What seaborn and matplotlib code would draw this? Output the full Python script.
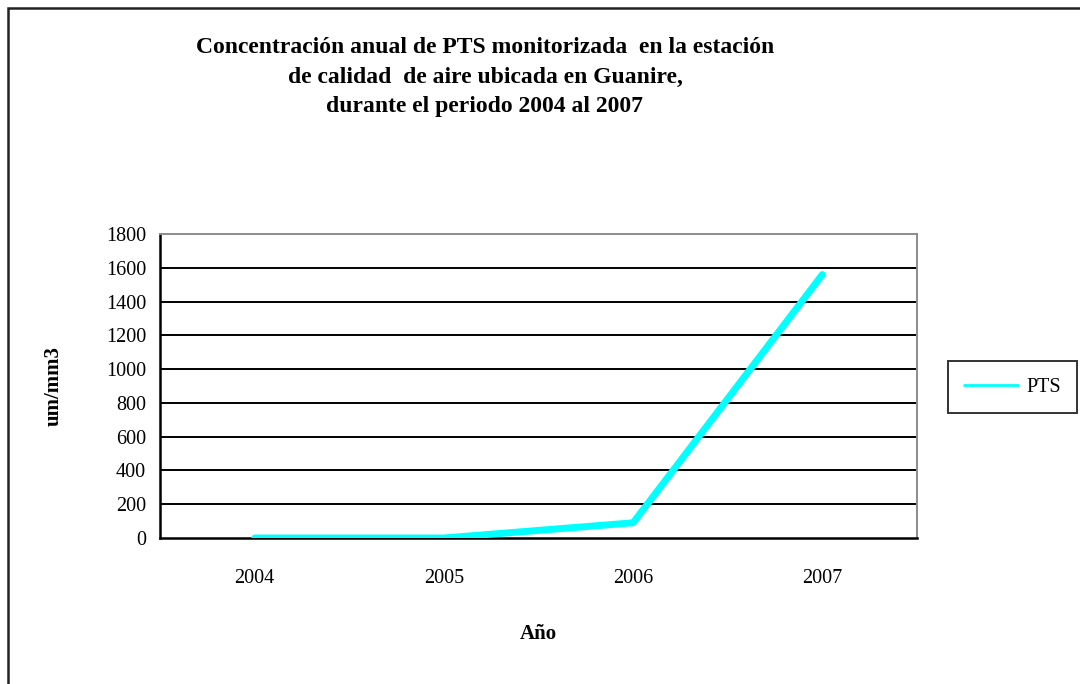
import pandas as pd
import numpy as np
import seaborn as sns
import matplotlib.pyplot as plt
from matplotlib.patches import Rectangle

anios = ["2004", "2005", "2006", "2007"]
pts = [0, 0, 90, 1560]
yticks = [0, 200, 400, 600, 800, 1000, 1200, 1400, 1600, 1800]

df = pd.DataFrame({"Año": anios, "PTS": pts})
df["pos"] = np.arange(len(anios))

sns.set_style("white")
plt.rcParams['font.family'] = ['Liberation Serif', 'DejaVu Serif']
plt.rcParams['text.color'] = 'black'
plt.rcParams['axes.labelcolor'] = 'black'
plt.rcParams['xtick.color'] = 'black'
plt.rcParams['ytick.color'] = 'black'

fig = plt.figure(figsize=(10.8, 6.84), dpi=100)
ax = fig.add_axes([160/1080, 1 - 538/684, (917-160)/1080, (538-234)/684])

sns.lineplot(data=df, x="pos", y="PTS", ax=ax, color="#00FFFF", linewidth=5,
             label="PTS", solid_capstyle="round", zorder=3)

ax.set_xlim(-0.5, 3.5)
ax.set_ylim(0, 1800)
ax.set_yticks(yticks)
ax.set_yticklabels([str(v) for v in yticks], fontsize=14.5)
ax.set_xticks(df["pos"])
ax.set_xticklabels(anios, fontsize=14.5)
ax.set_xticks(np.arange(-0.5, 4, 1), minor=True)
ax.tick_params(axis="x", which="major", length=0, pad=22)
ax.tick_params(axis="x", which="minor", length=6, width=1.2, direction="out", color="black")
ax.tick_params(axis="y", length=5, width=1.2, direction="out", color="black", pad=5)
for v in yticks[1:-1]:
    ax.axhline(v, color="black", linewidth=1.4, zorder=1)

ax.spines["left"].set_color("black")
ax.spines["left"].set_linewidth(1.8)
ax.spines["bottom"].set_color("black")
ax.spines["bottom"].set_linewidth(1.8)
ax.spines["top"].set_color("#8c8c8c")
ax.spines["top"].set_linewidth(1.4)
ax.spines["right"].set_color("#8c8c8c")
ax.spines["right"].set_linewidth(1.4)

ax.set_xlabel("Año", fontsize=15, fontweight="bold", labelpad=26)
ax.set_ylabel("um/mm3", fontsize=15, fontweight="bold", labelpad=30)

fig.text(485/1080, 1 - 77/684, "Concentración anual de PTS monitorizada  en la estación\n"
         "de calidad  de aire ubicada en Guanire,\n"
         "durante el periodo 2004 al 2007",
         ha="center", va="center", fontsize=17, fontweight="bold", linespacing=1.55)

leg = ax.legend(loc="center left", bbox_to_anchor=(948/1080, 1 - 387/684),
                bbox_transform=fig.transFigure, frameon=True, fancybox=False,
                fontsize=14.5, handlelength=2.7, borderpad=0.8, handletextpad=0.4,
                borderaxespad=0)
leg.get_frame().set_edgecolor("black")
leg.get_frame().set_linewidth(1.4)
for line in leg.get_lines():
    line.set_linewidth(2)

fig.add_artist(Rectangle((8/1080, -0.1), 1.2, 1 - 8/684 + 0.1, transform=fig.transFigure,
                         fill=False, edgecolor="#222222", linewidth=1.8))

fig.savefig("out.png", dpi=100)
